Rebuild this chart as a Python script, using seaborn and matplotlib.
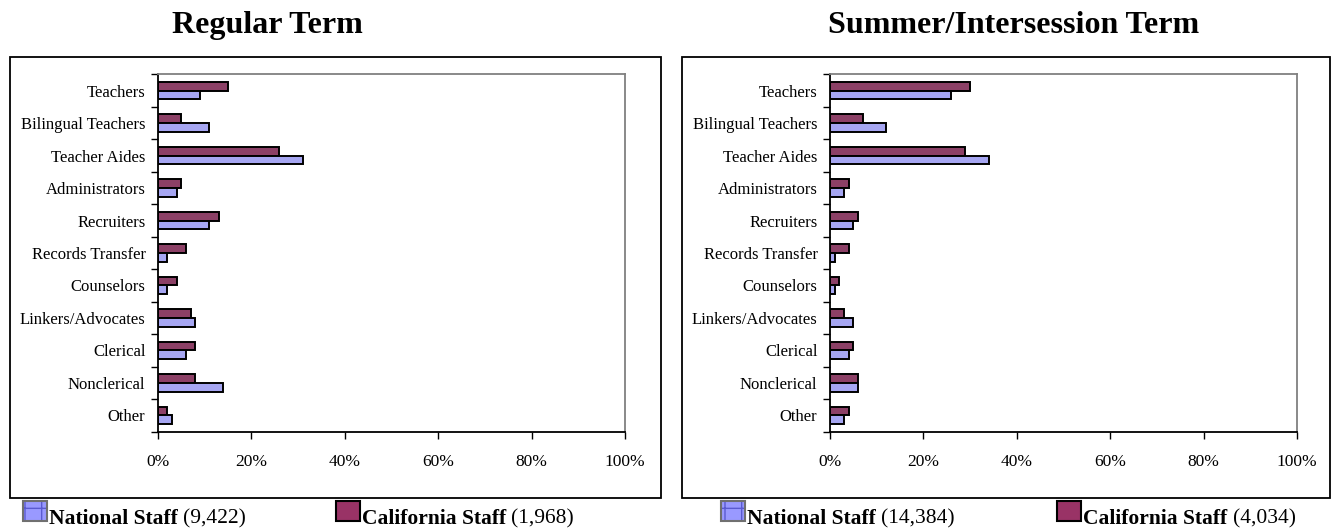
import numpy as np
import pandas as pd
import matplotlib
matplotlib.use('Agg')
import matplotlib.pyplot as plt
from matplotlib.patches import Rectangle
import seaborn as sns

categories = ['Teachers', 'Bilingual Teachers', 'Teacher Aides', 'Administrators',
              'Recruiters', 'Records Transfer', 'Counselors', 'Linkers/Advocates',
              'Clerical', 'Nonclerical', 'Other']

# percent of staff
regular_national = [9, 11, 31, 4, 11, 2, 2, 8, 6, 14, 3]
regular_california = [15, 5, 26, 5, 13, 6, 4, 7, 8, 8, 2]
summer_national = [26, 12, 34, 3, 5, 1, 1, 5, 4, 6, 3]
summer_california = [30, 7, 29, 4, 6, 4, 2, 3, 5, 6, 4]

titles = ['Regular Term', 'Summer/Intersession Term']
national_counts = ['(9,422)', '(14,384)']
california_counts = ['(1,968)', '(4,034)']
xticks = [0, 20, 40, 60, 80, 100]

NAT = '#9999FF'
CAL = '#993366'

sns.set_style('white')
plt.rcParams['font.family'] = ['Liberation Serif', 'DejaVu Serif']
plt.rcParams['text.color'] = 'black'
plt.rcParams['xtick.color'] = 'black'
plt.rcParams['ytick.color'] = 'black'
plt.rcParams['xtick.labelcolor'] = 'black'
plt.rcParams['ytick.labelcolor'] = 'black'

W, H = 1336, 529
fig = plt.figure(figsize=(W / 100, H / 100), dpi=100)


def fx(px):
    return px / W


def fy(py):
    return 1 - py / H


def make_df(nat, cal):
    return pd.DataFrame({
        'category': categories * 2,
        'pct': cal + nat,
        'staff': ['California'] * len(categories) + ['National'] * len(categories),
    })


panels = [
    dict(nat=regular_national, cal=regular_california, box=(10, 57, 661, 498),
         ax_left=158, title_x=267, leg=(23, 336)),
    dict(nat=summer_national, cal=summer_california, box=(682, 57, 1330, 498),
         ax_left=830, title_x=1014, leg=(721, 1057)),
]

LEG_BASE = 523.5
SQ_TOP, SQ_BOT = 501, 521

for i, p in enumerate(panels):
    # outer chart frame
    x0, y0, x1, y1 = p['box']
    fig.add_artist(Rectangle((fx(x0), fy(y1)), fx(x1 - x0), (y1 - y0) / H,
                             transform=fig.transFigure, fill=False,
                             edgecolor='black', lw=1.3, zorder=0))

    ax = fig.add_axes([fx(p['ax_left']), fy(431.7), fx(467), (431.7 - 74.3) / H])
    df = make_df(p['nat'], p['cal'])
    sns.barplot(data=df, y='category', x='pct', hue='staff',
                hue_order=['California', 'National'], order=categories,
                palette={'California': CAL, 'National': NAT},
                orient='h', width=0.54, edgecolor='black', linewidth=1.4,
                legend=False, ax=ax)

    ax.set_xlim(0, 100)
    ax.set_ylim(len(categories) - 0.5, -0.5)
    ax.set_xticks(xticks)
    ax.set_xticklabels([f'{t}%' for t in xticks], fontsize=12.5)
    ax.set_yticks(range(len(categories)))
    ax.set_yticklabels(categories, fontsize=12)
    ax.set_yticks(np.arange(len(categories) + 1) - 0.5, minor=True)
    ax.tick_params(axis='y', which='major', length=0, pad=9)
    ax.tick_params(axis='y', which='minor', length=5, width=1, color='black', left=True)
    ax.tick_params(axis='x', length=5, width=1, color='black', bottom=True, pad=11)
    ax.set_xlabel('')
    ax.set_ylabel('')
    for s in ['left', 'bottom']:
        ax.spines[s].set_color('black')
        ax.spines[s].set_linewidth(1.3)
    for s in ['top', 'right']:
        ax.spines[s].set_color('#808080')
        ax.spines[s].set_linewidth(1.3)

    fig.text(fx(p['title_x']), fy(33.3), titles[i], ha='center', va='baseline',
             fontsize=23, fontweight='bold', color='black')

    # legend
    lx_nat, lx_cal = p['leg']
    sq_h = (SQ_BOT - SQ_TOP) / H
    fig.add_artist(Rectangle((fx(lx_nat), fy(SQ_BOT)), fx(24), sq_h,
                             transform=fig.transFigure, facecolor=NAT,
                             edgecolor='#5a5ad0', hatch='+', lw=0))
    fig.add_artist(Rectangle((fx(lx_nat), fy(SQ_BOT)), fx(24), sq_h,
                             transform=fig.transFigure, fill=False,
                             edgecolor='#707070', lw=1.5))
    t = fig.text(fx(lx_nat + 26), fy(LEG_BASE), 'National Staff ', ha='left',
                 va='baseline', fontsize=15.5, fontweight='bold', color='black')
    fig.canvas.draw()
    bb = t.get_window_extent()
    fig.text(bb.x1 / W, fy(LEG_BASE), national_counts[i], ha='left', va='baseline',
             fontsize=15.5, color='black')

    fig.add_artist(Rectangle((fx(lx_cal), fy(SQ_BOT)), fx(24), sq_h,
                             transform=fig.transFigure, facecolor=CAL,
                             edgecolor='black', lw=1.5))
    t = fig.text(fx(lx_cal + 26), fy(LEG_BASE), 'California Staff ', ha='left',
                 va='baseline', fontsize=15.5, fontweight='bold', color='black')
    fig.canvas.draw()
    bb = t.get_window_extent()
    fig.text(bb.x1 / W, fy(LEG_BASE), california_counts[i], ha='left', va='baseline',
             fontsize=15.5, color='black')

fig.savefig('out.png', dpi=100, facecolor='white')
